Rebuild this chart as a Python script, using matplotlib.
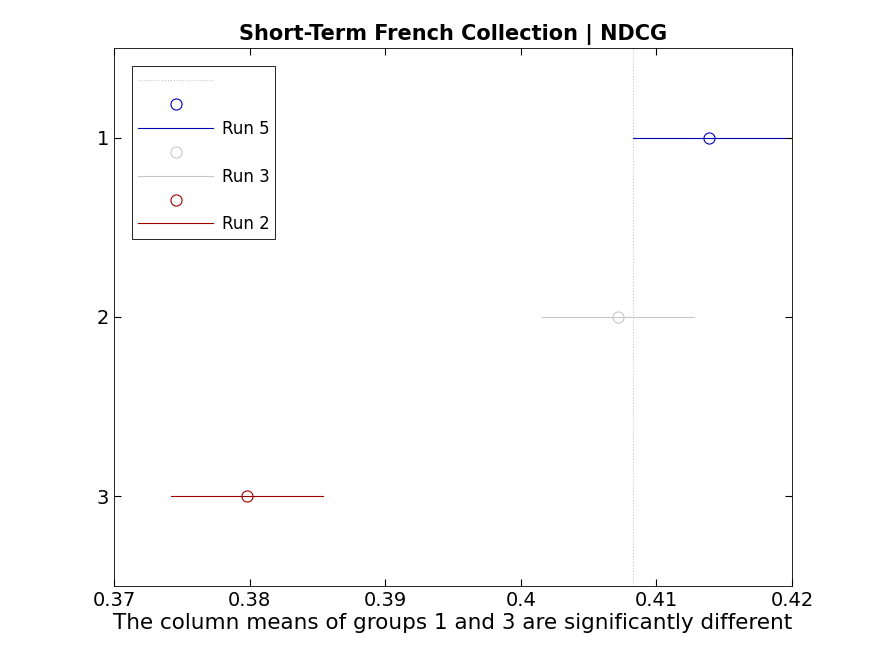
import matplotlib.pyplot as plt
from matplotlib.lines import Line2D

groups = [1, 2, 3]
means = [0.4139, 0.4072, 0.3798]
lower = [0.4083, 0.4016, 0.3742]
upper = [0.4195, 0.4128, 0.3854]
colors = ['#0000b4', '#c8c8c8', '#a00000']
runs = ['Run 5', 'Run 3', 'Run 2']

fig = plt.figure(figsize=(8.77, 6.59), dpi=100)
ax = fig.add_axes([114/877, 73/659, 678/877, 538/659])

ax.axvline(lower[0], color='#c8c8c8', linestyle=':', linewidth=0.8)
for g, m, lo, hi, c in zip(groups, means, lower, upper, colors):
    ax.plot([lo, hi], [g, g], color=c, linewidth=0.8)
    ax.plot(m, g, 'o', mfc='none', mec=c, ms=8, mew=0.8)

ax.set_xlim(0.37, 0.42)
ax.set_ylim(3.5, 0.5)
ax.set_yticks(groups)
ax.set_xticks([0.37, 0.38, 0.39, 0.40, 0.41, 0.42])
ax.set_xticklabels(['0.37', '0.38', '0.39', '0.4', '0.41', '0.42'])
ax.tick_params(direction='in', top=True, right=True, labelsize=14, length=5)
for s in ax.spines.values():
    s.set_linewidth(0.6)
ax.set_title('Short-Term French Collection | NDCG', fontsize=15, fontweight='bold')
ax.set_xlabel('The column means of groups 1 and 3 are significantly different',
              fontsize=15.5, labelpad=2)

handles = [Line2D([], [], color='#c8c8c8', linestyle=':', linewidth=0.8)]
labels = ['']
for c, r in zip(colors, runs):
    handles.append(Line2D([], [], marker='o', linestyle='none', mfc='none', mec=c, ms=8, mew=0.8))
    labels.append('')
    handles.append(Line2D([], [], color=c, linewidth=0.8))
    labels.append(r)
leg = ax.legend(handles, labels, loc='upper left', fontsize=12, fancybox=False,
                edgecolor='black', framealpha=1, handlelength=4.5, borderaxespad=1.1,
                labelspacing=0.35, handletextpad=0.5, borderpad=0.35)
leg.get_frame().set_linewidth(0.6)

fig.savefig('out.png')
